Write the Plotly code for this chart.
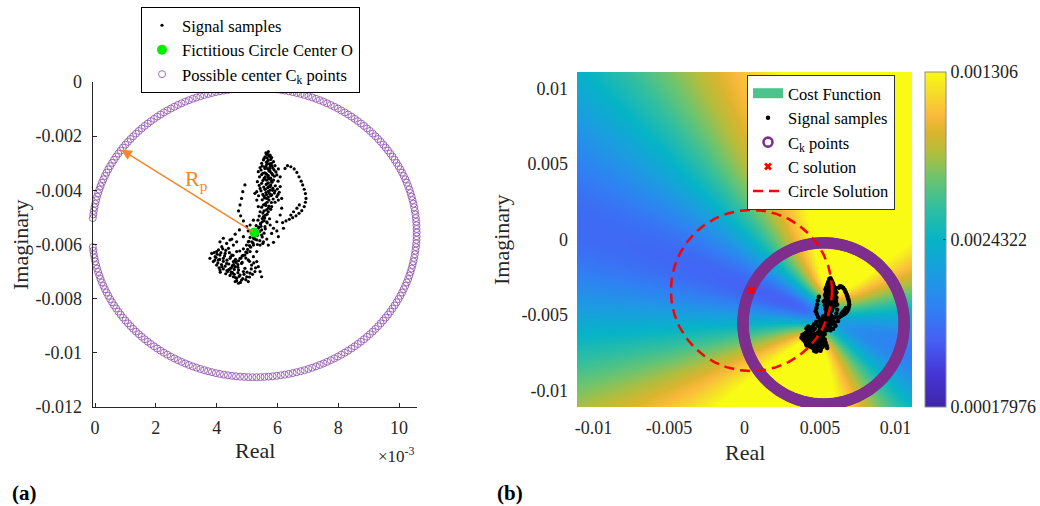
import numpy as np
import plotly.graph_objects as go

# ---- signal samples (real / imaginary parts, in units of 1e-3) ----
SAMPLE_RE_E3 = [
    # upper column
    5.70, 5.65, 5.76, 5.59, 5.81, 5.54, 5.70, 5.87, 5.48, 5.65, 5.78, 5.92, 5.43, 5.59, 5.74,
    5.89, 6.03, 5.37, 5.52, 5.65, 5.81, 5.98, 6.09, 5.41, 5.56, 5.71, 5.87, 6.02, 5.34, 5.48,
    5.63, 5.78, 5.93, 6.09, 5.43, 5.59, 5.76, 5.92, 6.06, 5.32, 5.52, 5.81, 5.98, 6.14, 5.65,
    5.62, 5.74, 5.55, 5.68, 5.80, 5.50, 5.62, 5.72, 5.85, 5.46, 5.58, 5.70, 5.95, 5.48, 5.78,
    5.64, 5.90, 5.52, 5.82, 5.70, 5.40, 5.55, 5.68, 5.85, 6.00, 5.46, 5.62, 5.74, 5.90, 5.38,
    5.56, 5.70, 5.86, 6.02, 5.66, 5.76, 5.60, 5.74, 5.50, 5.80,
    5.66, 5.72, 5.60, 5.78, 5.64, 5.74, 5.58, 5.82, 5.68, 5.76, 5.62, 5.84, 5.70, 5.58, 5.80,
    5.66, 5.76, 5.60, 5.84, 5.70, 5.64, 5.78, 5.58, 5.72, 5.66,
    # right loop
    6.25, 6.33, 6.44, 6.55, 6.64, 6.71, 6.78, 6.83, 6.88, 6.92, 6.94, 6.92, 6.88, 6.80, 6.71,
    6.61, 6.50, 6.39, 6.28, 6.17, 6.64, 6.72, 6.53, 6.44,
    # middle section
    5.26, 5.32, 5.37, 5.43, 5.54, 5.65, 5.76, 5.87, 5.98, 5.70, 5.81, 5.92, 6.03, 5.54, 5.21,
    5.10, 5.04, 5.37, 5.48, 5.65, 5.81, 5.98, 6.09, 6.14, 6.20, 6.03, 5.87, 5.70, 5.59, 5.45,
    5.32, 5.52, 5.21,
    5.60, 5.72, 5.48, 5.64, 5.78, 5.52, 5.66, 5.40, 5.58, 5.74, 5.36, 5.50, 5.66, 5.30, 5.46,
    5.60, 5.28, 5.42, 5.56, 5.18, 5.34, 5.50, 5.10, 5.26, 5.42, 5.06, 5.20, 5.34, 4.98, 5.12,
    5.62, 5.70, 5.56, 5.60, 5.50, 5.56, 5.44, 5.38, 5.48, 5.32, 5.28, 5.22, 5.16, 5.08, 5.02,
    # left sparse strand
    4.93, 4.86, 4.82, 4.77, 4.72, 4.79, 4.88, 4.99, 4.75, 4.61, 4.50, 4.66, 4.88, 5.04,
    # lower-left blob
    4.11, 4.22, 4.33, 4.44, 4.17, 4.39, 4.55,
    3.84, 3.95, 3.89, 4.06, 4.11, 4.22, 4.00, 4.17, 4.33, 4.44, 4.55, 4.28, 4.50, 4.61, 4.39,
    3.78, 4.00, 4.66, 4.77, 4.11,
    4.50, 4.55, 4.66, 4.61, 4.77, 4.82, 4.88, 4.99, 5.10, 5.04, 4.93, 4.72, 4.72,
    5.10, 5.21, 5.32, 5.37, 5.43, 5.48, 5.26, 5.15, 5.04, 5.32, 5.43, 5.54, 5.21, 4.93, 4.82,
    3.92, 4.02, 4.14, 4.26, 3.98, 4.10, 4.22, 4.34, 4.46, 3.94, 4.04, 4.16, 4.28, 4.40, 4.52,
    4.08, 4.22, 4.34, 4.46, 4.58, 4.30, 4.42, 4.54, 4.62, 4.70, 4.48, 4.58, 4.70, 4.62, 4.74,
    4.66, 4.78, 4.86, 4.90, 5.00, 4.96, 5.08, 5.18, 5.14, 5.28, 5.22, 5.08, 4.96, 4.84, 4.76,
    4.88, 5.00, 4.20, 4.06, 4.12,
    4.96, 4.88, 4.80, 4.72, 4.64, 4.56, 4.50, 4.42, 4.36, 4.30, 4.60, 4.70, 4.52, 4.84, 4.44,
]
SAMPLE_IM_E3 = [
    -2.57, -2.67, -2.70, -2.76, -2.79, -2.88, -2.88, -2.94, -3.00, -3.04, -3.06, -3.09, -3.16, -3.19, -3.21,
    -3.25, -3.21, -3.31, -3.37, -3.41, -3.37, -3.43, -3.50, -3.50, -3.56, -3.58, -3.62, -3.66, -3.68, -3.74,
    -3.78, -3.80, -3.83, -3.86, -3.93, -3.96, -3.99, -4.02, -4.07, -4.05, -4.15, -4.17, -4.23, -4.30, -4.30,
    -2.62, -2.75, -2.84, -2.92, -3.00, -3.10, -3.12, -3.28, -3.18, -3.25, -3.35, -3.46, -3.32, -3.42, -3.55,
    -3.62, -3.48, -3.64, -3.70, -3.72, -3.82, -3.88, -3.90, -3.92, -3.95, -4.02, -4.08, -4.12, -4.10, -4.20,
    -4.22, -4.25, -4.32, -4.15, -2.80, -3.12, -3.50, -3.84, -4.35, -4.45,
    -2.64, -2.70, -2.78, -2.86, -2.96, -3.02, -3.14, -3.10, -3.20, -3.30, -3.38, -3.42, -3.52, -3.58, -3.64,
    -3.76, -3.86, -3.96, -4.00, -4.04, -4.16, -4.20, -4.28, -4.36, -4.44,
    -3.19, -3.09, -3.13, -3.21, -3.34, -3.50, -3.66, -3.80, -3.96, -4.12, -4.30, -4.44, -4.60, -4.75, -4.85,
    -4.94, -5.01, -5.07, -5.13, -5.19, -4.66, -4.54, -4.79, -4.91,
    -4.11, -4.36, -4.60, -4.79, -4.97, -5.16, -5.28, -5.40, -5.50, -4.79, -4.60, -4.44, -4.36, -4.54, -5.10,
    -5.28, -5.50, -5.40, -5.65, -5.80, -5.59, -5.16, -4.91, -4.66, -5.40, -5.71, -5.92, -6.02, -5.34, -5.22,
    -5.83, -5.96, -5.71,
    -4.50, -4.58, -4.62, -4.72, -4.70, -4.84, -4.88, -4.95, -5.02, -5.05, -5.10, -5.16, -5.20, -5.30, -5.33,
    -5.42, -5.45, -5.52, -5.58, -5.60, -5.66, -5.72, -5.74, -5.80, -5.86, -5.88, -5.95, -6.00, -6.02, -6.10,
    -4.56, -4.66, -4.76, -4.92, -5.04, -5.12, -5.24, -5.36, -5.46, -5.56, -5.68, -5.78, -5.90, -6.04, -6.18,
    -3.80, -4.05, -4.30, -4.54, -4.76, -4.94, -5.13, -5.34, -5.46, -5.62, -5.80, -5.90, -5.71, -5.90,
    -5.90, -5.77, -5.96, -5.83, -6.08, -6.14, -6.02,
    -6.33, -6.45, -6.63, -6.57, -6.39, -6.51, -6.76, -6.82, -6.70, -6.51, -6.63, -6.33, -6.39, -6.82, -6.94,
    -6.51, -6.26, -6.26, -6.51, -6.94,
    -7.06, -7.19, -7.25, -7.37, -7.13, -7.31, -7.00, -7.19, -7.06, -7.37, -6.88, -6.94, -7.43,
    -6.26, -6.45, -6.63, -6.82, -7.00, -7.19, -7.00, -6.76, -6.57, -6.26, -6.02, -5.90, -6.02, -6.39, -6.70,
    -6.30, -6.36, -6.30, -6.42, -6.48, -6.55, -6.62, -6.58, -6.46, -6.58, -6.68, -6.74, -6.80, -6.72, -6.78,
    -6.86, -6.90, -6.96, -6.88, -6.92, -6.22, -6.30, -6.40, -6.55, -6.74, -7.02, -7.10, -7.04, -7.22, -7.18,
    -7.34, -7.40, -7.26, -7.10, -7.02, -7.30, -7.20, -7.10, -6.90, -6.86, -6.68, -6.62, -6.50, -6.42, -6.24,
    -6.16, -6.30, -6.16, -6.20, -7.02,
    -6.28, -6.40, -6.50, -6.60, -6.66, -6.74, -6.84, -6.92, -7.00, -7.08, -6.60, -6.84, -7.04, -6.66, -7.14,
]

# ---- geometry of the search ----
CENTER_O = (0.00524, -0.00556)      # fictitious circle center O
RADIUS_P = 0.00534                  # R_p
N_CK = 250                          # number of candidate centers C_k
RP_ARROW_ANGLE_DEG = 145            # direction in which R_p is drawn
C_SOLUTION = (0.00046, -0.00338)    # selected center

# colour bar limits and labels
COST_MIN = 0.00017976
COST_MAX = 0.001306
CBAR_LABELS = ["0.00017976", "0.0024322", "0.001306"]

# axis ticks
XA_TICKS = [0, 0.002, 0.004, 0.006, 0.008, 0.010]
XA_TEXT = ["0", "2", "4", "6", "8", "10"]
YA_TICKS = [0, -0.002, -0.004, -0.006, -0.008, -0.010, -0.012]
YA_TEXT = ["0", "-0.002", "-0.004", "-0.006", "-0.008", "-0.01", "-0.012"]
B_TICKS = [-0.01, -0.005, 0, 0.005, 0.01]
B_TEXT = ["-0.01", "-0.005", "0", "0.005", "0.01"]

FONT = "Liberation Serif"
W, H = 1040, 506

re = np.array(SAMPLE_RE_E3) * 1e-3
im = np.array(SAMPLE_IM_E3) * 1e-3

# candidate centers on the circle of radius R_p around O
th = np.linspace(0, 2 * np.pi, N_CK, endpoint=False)
ck_x = CENTER_O[0] + RADIUS_P * np.cos(th)
ck_y = CENTER_O[1] + RADIUS_P * np.sin(th)

# solution circle
ts = np.linspace(0, 2 * np.pi, 361)
sol_x = C_SOLUTION[0] + RADIUS_P * np.cos(ts)
sol_y = C_SOLUTION[1] + RADIUS_P * np.sin(ts)

# cost function: spread of the sample distances to every grid point
gx = np.linspace(-0.0111, 0.0111, 223)
gy = np.linspace(-0.0111, 0.0111, 223)
GX, GY = np.meshgrid(gx, gy)
d = np.sqrt((GX[..., None] - re) ** 2 + (GY[..., None] - im) ** 2)
cost = d.std(axis=-1)

parula = [
    [0.00, "#3e26a8"], [0.10, "#4536d6"], [0.20, "#4560f5"], [0.30, "#2f82f3"],
    [0.40, "#1b9de0"], [0.50, "#05b4c6"], [0.60, "#34bf9d"], [0.68, "#6ac470"],
    [0.76, "#b3bd3d"], [0.82, "#dcb42e"], [0.87, "#fbb93c"], [0.93, "#f5d92c"],
    [1.00, "#f9fb15"],
]


def px_x(p):
    return p / W


def px_y(p):
    return 1 - p / H


fig = go.Figure()

# ---------------- panel (a) ----------------
fig.add_trace(go.Scatter(
    x=re, y=im, mode="markers", name="Signal samples",
    marker=dict(color="black", size=3.2), xaxis="x", yaxis="y", legend="legend",
))
fig.add_trace(go.Scatter(
    x=[CENTER_O[0]], y=[CENTER_O[1]], mode="markers", name="Fictitious Circle Center O",
    marker=dict(color="#00ee00", size=10), xaxis="x", yaxis="y", legend="legend",
))
fig.add_trace(go.Scatter(
    x=ck_x, y=ck_y, mode="markers", name="Possible center C<sub>k</sub> points",
    marker=dict(symbol="circle-open", color="#9457b0", size=7, line=dict(width=0.9)),
    xaxis="x", yaxis="y", legend="legend", cliponaxis=False,
))

# ---------------- panel (b) ----------------
fig.add_trace(go.Heatmap(
    x=gx, y=gy, z=cost, zmin=COST_MIN, zmax=COST_MAX, zsmooth="best",
    colorscale=parula, xaxis="x2", yaxis="y2", showlegend=False,
    colorbar=dict(
        x=px_x(925), xanchor="left", y=px_y(407), yanchor="bottom",
        len=335, lenmode="pixels", thickness=21, thicknessmode="pixels",
        xpad=0, ypad=0, outlinecolor="#8c8c8c", outlinewidth=1,
        tickvals=[COST_MIN, (COST_MIN + COST_MAX) / 2, COST_MAX],
        ticktext=CBAR_LABELS, ticks="inside", ticklen=3, tickcolor="#333",
        tickfont=dict(family=FONT, size=18, color="#222"),
    ),
))
fig.add_trace(go.Scatter(
    x=[None], y=[None], mode="lines", name="Cost Function",
    line=dict(color="#4cc38a", width=13), xaxis="x2", yaxis="y2", legend="legend2",
))
fig.add_trace(go.Scatter(
    x=re, y=im, mode="markers", name="Signal samples",
    marker=dict(color="black", size=4.5), xaxis="x2", yaxis="y2", legend="legend2",
))
fig.add_trace(go.Scatter(
    x=ck_x, y=ck_y, mode="markers", name="C<sub>k</sub> points",
    marker=dict(symbol="circle-open", color="#7e2f8e", size=9, line=dict(width=2.6)),
    xaxis="x2", yaxis="y2", legend="legend2", cliponaxis=True,
))
fig.add_trace(go.Scatter(
    x=[C_SOLUTION[0]], y=[C_SOLUTION[1]], mode="markers", name="C solution",
    marker=dict(symbol="x", color="#ff0000", size=7), xaxis="x2", yaxis="y2", legend="legend2",
))
fig.add_trace(go.Scatter(
    x=sol_x, y=sol_y, mode="lines", name="Circle Solution",
    line=dict(color="#ff0000", width=2.5, dash="10px,6px"), xaxis="x2", yaxis="y2",
    legend="legend2",
))

axis_font = dict(family=FONT, size=22, color="#262626")
tick_font = dict(family=FONT, size=18, color="#262626")

tip_x = CENTER_O[0] + RADIUS_P * np.cos(np.radians(RP_ARROW_ANGLE_DEG))
tip_y = CENTER_O[1] + RADIUS_P * np.sin(np.radians(RP_ARROW_ANGLE_DEG))

fig.update_layout(
    width=W, height=H, margin=dict(l=0, r=0, t=0, b=0, autoexpand=False),
    paper_bgcolor="white", plot_bgcolor="white",
    font=dict(family=FONT, size=16, color="#222"),
    xaxis=dict(
        domain=[px_x(92.7), px_x(417)], range=[-0.000076, 0.01059], anchor="y",
        showline=True, linecolor="#262626", linewidth=1, ticks="inside", ticklen=4,
        tickcolor="#262626", tickvals=XA_TICKS, ticktext=XA_TEXT, showgrid=False,
        zeroline=False, tickfont=tick_font, ticklabelstandoff=4,
    ),
    yaxis=dict(
        domain=[px_y(407), px_y(82)], range=[-0.012, 0], anchor="x",
        showline=True, linecolor="#262626", linewidth=1, ticks="inside", ticklen=4,
        tickcolor="#262626", tickvals=YA_TICKS, ticktext=YA_TEXT, showgrid=False,
        zeroline=False, tickfont=tick_font, ticklabelstandoff=6,
    ),
    xaxis2=dict(
        domain=[px_x(577), px_x(912)], range=[-0.0111, 0.0111], anchor="y2",
        showline=False, ticks="", tickvals=B_TICKS, ticktext=B_TEXT, showgrid=False,
        zeroline=False, tickfont=tick_font, ticklabelstandoff=8,
    ),
    yaxis2=dict(
        domain=[px_y(407), px_y(72)], range=[-0.0111, 0.0111], anchor="x2",
        showline=False, ticks="", tickvals=B_TICKS, ticktext=B_TEXT, showgrid=False,
        zeroline=False, tickfont=tick_font, ticklabelstandoff=8,
    ),
    legend=dict(
        x=px_x(141), y=px_y(7), xanchor="left", yanchor="top",
        bgcolor="white", bordercolor="black", borderwidth=1,
        font=dict(family=FONT, size=16.5, color="black"), tracegroupgap=0,
        itemwidth=30,
    ),
    legend2=dict(
        x=px_x(747), y=px_y(75), xanchor="left", yanchor="top",
        bgcolor="white", bordercolor="#333", borderwidth=1,
        font=dict(family=FONT, size=16.5, color="black"), tracegroupgap=0,
        itemwidth=30,
    ),
    showlegend=True,
)


def label(x, y, text, font, **kw):
    return dict(x=px_x(x), y=px_y(y), xref="paper", yref="paper", text=text,
                showarrow=False, xanchor="center", yanchor="middle", font=font, **kw)


annotations = [
    dict(x=tip_x, y=tip_y, ax=CENTER_O[0], ay=CENTER_O[1], xref="x", yref="y",
         axref="x", ayref="y", showarrow=True, arrowhead=2, arrowsize=1.4,
         arrowwidth=1.5, arrowcolor="#f5862b", text=""),
    dict(x=0.00334, y=-0.00362, xref="x", yref="y", text="R<sub>p</sub>",
         showarrow=False, xanchor="center", yanchor="middle",
         font=dict(family=FONT, size=22, color="#f5862b")),
    label(255, 450, "Real", axis_font),
    label(20, 245, "Imaginary", axis_font, textangle=-90),
    label(396, 455, "×10<sup>-3</sup>", dict(family=FONT, size=17, color="#262626")),
    label(745, 452, "Real", axis_font),
    label(502, 240, "Imaginary", axis_font, textangle=-90),
    label(24, 493, "<b>(a)</b>", dict(family=FONT, size=21, color="black")),
    label(510, 493, "<b>(b)</b>", dict(family=FONT, size=21, color="black")),
]
fig.update_layout(annotations=annotations)

fig.write_html("out.html")
